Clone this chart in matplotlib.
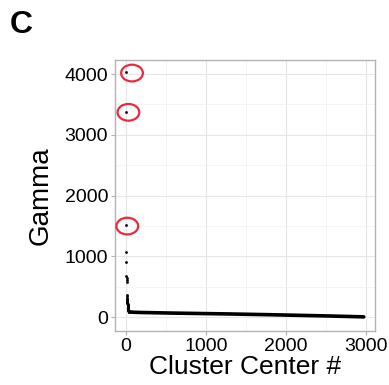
import matplotlib
matplotlib.use("Agg")
import matplotlib.pyplot as plt
from matplotlib.patches import Ellipse
from matplotlib.ticker import MultipleLocator

plt.rcParams['font.family'] = ['Liberation Sans', 'DejaVu Sans']

# isolated high-gamma cluster centers (rank, gamma)
top_idx = [1, 2, 3, 4, 5, 6, 7, 8, 9]
top_gamma = [4038, 3369, 1514, 1065, 900, 680, 647, 609, 571]

# dense run just after the outliers
dense_idx = list(range(10, 40))
dense_gamma = [362, 340, 318, 300, 285, 270, 255, 240, 226, 212,
               200, 188, 176, 165, 155, 146, 138, 131, 125, 120,
               115, 111, 107, 104, 101, 98, 96, 94, 92, 90]

# long tail of the decision graph
tail_idx = [40, 60, 100, 200, 400, 600, 800, 1000, 1250, 1500,
            1750, 2000, 2250, 2500, 2750, 2975]
tail_gamma = [90, 84, 80, 76, 71, 66, 62, 58, 53, 47,
              41, 34, 27, 20, 12, 4]

# highlighted peaks
circled_x = [75, 30, 16]
circled_y = [4016, 3370, 1498]

fig = plt.figure(figsize=(3.89, 3.85), dpi=100)
ax = fig.add_axes([0.2956, 0.140, 0.6684, 0.704])

ax.plot(tail_idx, tail_gamma, color='black', lw=2.6, solid_capstyle='round', zorder=3)
ax.scatter(dense_idx, dense_gamma, s=4, color='black', lw=0, zorder=3)
ax.scatter(top_idx, top_gamma, s=4, color='black', lw=0, zorder=3)

for cx, cy in zip(circled_x, circled_y):
    ax.add_patch(Ellipse((cx, cy), 272, 275, fill=False, edgecolor='#ea2a3d', lw=1.6, zorder=4))

ax.set_xlim(-138, 3116)
ax.set_ylim(-230, 4230)
ax.xaxis.set_major_locator(MultipleLocator(1000))
ax.xaxis.set_minor_locator(MultipleLocator(500))
ax.yaxis.set_major_locator(MultipleLocator(1000))
ax.yaxis.set_minor_locator(MultipleLocator(500))

ax.grid(which='major', color='#e6e6e6', lw=0.8)
ax.grid(which='minor', color='#f0f0f0', lw=0.5)
ax.set_axisbelow(True)
for s in ax.spines.values():
    s.set_color('#b3b3b3')
    s.set_linewidth(1.0)
ax.tick_params(which='major', length=3, color='#b3b3b3', labelsize=14, labelcolor='black', pad=2)
ax.tick_params(which='minor', length=0)

ax.set_xlabel('Cluster Center #', fontsize=19, labelpad=0)
ax.set_ylabel('Gamma', fontsize=20, labelpad=8)

fig.text(0.026, 0.915, 'C', fontsize=23, fontweight='bold', va='baseline')

fig.savefig('out.png', dpi=100)
